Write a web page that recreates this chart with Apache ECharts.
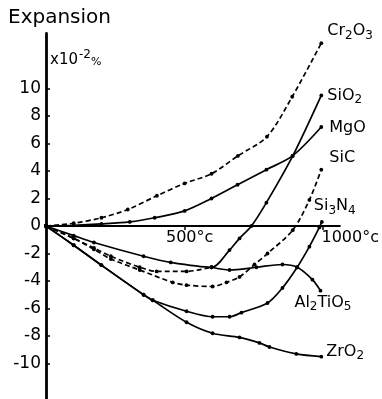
<!DOCTYPE html>
<html><head><meta charset="utf-8">
<script src="https://cdn.jsdelivr.net/npm/echarts@6/dist/echarts.min.js"></script>
<style>html,body{margin:0;padding:0;background:#fff}#c{width:382px;height:399px}</style>
</head><body><div id="c"></div>
<script>
// tick labels
const yTicks = [-10, -8, -6, -4, -2, 0, 2, 4, 6, 8, 10];
const xTicks = [500, 1000];

// series (temperature °C, expansion x10^-2 %)
const cr2o3T = [0, 100, 200, 295, 400, 500, 597, 692, 797, 888, 993];
const cr2o3V = [0, 0.2, 0.6, 1.2, 2.2, 3.1, 3.8, 5.1, 6.5, 9.4, 13.3];

const sio2T = [0, 100, 173, 352, 450, 597, 662, 698, 741, 795, 890, 993];
const sio2V = [0, -0.7, -1.2, -2.2, -2.65, -3.0, -1.75, -0.9, 0, 1.7, 5.1, 9.5];

const mgoT = [0, 100, 200, 302, 392, 500, 597, 691, 795, 889, 993];
const mgoV = [0, 0.05, 0.15, 0.3, 0.6, 1.1, 2.0, 3.0, 4.1, 5.1, 7.2];

const sicT = [0, 100, 173, 234, 338, 457, 507, 601, 651, 698, 752, 799, 890, 950, 993];
const sicV = [0, -0.9, -1.7, -2.4, -3.2, -4.1, -4.3, -4.4, -4.1, -3.7, -2.8, -2.0, -0.3, 1.9, 4.1];

const si3n4T = [0, 100, 200, 352, 385, 507, 601, 662, 705, 799, 853, 906, 950, 986, 995];
const si3n4V = [0, -1.4, -2.85, -5.0, -5.4, -6.2, -6.6, -6.6, -6.3, -5.6, -4.5, -3.0, -1.5, -0.1, 0.3];

const al2tio5DashT = [0, 100, 173, 234, 338, 399, 507, 597];
const al2tio5DashV = [0, -0.9, -1.6, -2.2, -3.0, -3.3, -3.3, -3.0];
const al2tio5T = [597, 662, 759, 853, 906, 961, 990];
const al2tio5V = [-3.0, -3.2, -3.0, -2.8, -3.0, -3.9, -4.7];

const zro2T = [0, 100, 200, 352, 385, 507, 601, 698, 770, 806, 903, 993];
const zro2V = [0, -1.4, -2.85, -5.0, -5.4, -7.0, -7.8, -8.1, -8.5, -8.8, -9.3, -9.5];

const FONT = 'DejaVu Sans';
const zip = (t, v) => t.map((x, i) => [x, v[i]]);

const Y_MIN = -12.58, Y_MAX = 14;
const GRID_TOP = 33.5, H = 399;
// vertical offset that places the x axis on y = 0
const xAxisOffset = -((0 - Y_MIN) / (Y_MAX - Y_MIN)) * (H - GRID_TOP);

const labelRich = {
  m: { fontSize: 16, fontFamily: FONT, color: '#000' },
  s: { fontSize: 12, fontFamily: FONT, color: '#000', padding: [9, 0, 0, 0] }
};

function mk(name, t, v, dashed, label, offset) {
  const s = {
    name: name,
    type: 'line',
    data: zip(t, v),
    smooth: 0.3,
    symbol: 'circle',
    symbolSize: 3.8,
    showSymbol: true,
    itemStyle: { color: '#000' },
    lineStyle: { color: '#000', width: 1.7, type: dashed ? [5, 3] : 'solid' },
    emphasis: { disabled: true },
    z: 3
  };
  if (label) {
    s.endLabel = {
      show: true,
      formatter: label,
      rich: labelRich,
      offset: offset
    };
  }
  return s;
}

const chart = echarts.init(document.getElementById('c'), null, { renderer: 'canvas' });
chart.setOption({
  animation: false,
  backgroundColor: '#fff',
  title: [
    { text: 'Expansion', left: 8, top: 8, padding: 0,
      textStyle: { fontFamily: FONT, fontSize: 20, fontWeight: 'normal', color: '#000' } },
    { text: '{a|x10}{b|-2}{c|%}', left: 50, top: 49, padding: 0,
      textStyle: { fontWeight: 'normal', rich: {
        a: { fontFamily: FONT, fontSize: 15, fontWeight: 'normal', color: '#000' },
        b: { fontFamily: FONT, fontSize: 12, fontWeight: 'normal', color: '#000', padding: [0, 0, 11, 1] },
        c: { fontFamily: FONT, fontSize: 11, fontWeight: 'normal', color: '#000', padding: [3, 0, 0, 0] }
      } } }
  ],
  grid: { left: 46, right: 42, top: GRID_TOP, bottom: 0, containLabel: false },
  xAxis: {
    type: 'value', min: 0, max: 1060, position: 'bottom', offset: xAxisOffset,
    axisLine: { onZero: false, lineStyle: { color: '#000', width: 2 } },
    axisTick: { show: true, customValues: xTicks, length: 4, lineStyle: { color: '#000', width: 1.5 } },
    axisLabel: {
      customValues: xTicks,
      margin: 4,
      formatter: function (v) { return v === 1000 ? '{r|' + v + '°c}' : '{c|' + v + '°c}'; },
      rich: {
        c: { fontFamily: FONT, fontSize: 16, color: '#000', padding: [0, 0, 0, 10] },
        r: { fontFamily: FONT, fontSize: 16, color: '#000', padding: [0, 0, 0, 54] }
      }
    },
    splitLine: { show: false }
  },
  yAxis: {
    type: 'value', min: Y_MIN, max: Y_MAX,
    axisLine: { onZero: false, lineStyle: { color: '#000', width: 2.8 } },
    axisTick: { show: true, inside: true, customValues: yTicks, length: 4, lineStyle: { color: '#000', width: 1.5 } },
    axisLabel: {
      customValues: yTicks, margin: 5,
      fontFamily: FONT, fontSize: 17, color: '#000'
    },
    splitLine: { show: false }
  },
  series: [
    mk('Cr2O3', cr2o3T, cr2o3V, true, '{m|Cr}{s|2}{m|O}{s|3}', [-2, -12]),
    mk('SiO2', sio2T, sio2V, false, '{m|SiO}{s|2}', [-2, 0]),
    mk('MgO', mgoT, mgoV, false, '{m|MgO}', [0, 1]),
    mk('SiC', sicT, sicV, true, '{m|SiC}', [0, -12]),
    mk('Si3N4', si3n4T, si3n4V, false, '{m|Si}{s|3}{m|N}{s|4}', [-16, -16]),
    mk('Al2TiO5 (low)', al2tio5DashT, al2tio5DashV, true, null, null),
    mk('Al2TiO5', al2tio5T, al2tio5V, false, '{m|Al}{s|2}{m|TiO}{s|5}', [-34, 12]),
    mk('ZrO2', zro2T, zro2V, false, '{m|ZrO}{s|2}', [-3, -5])
  ]
});
</script>
</body></html>
